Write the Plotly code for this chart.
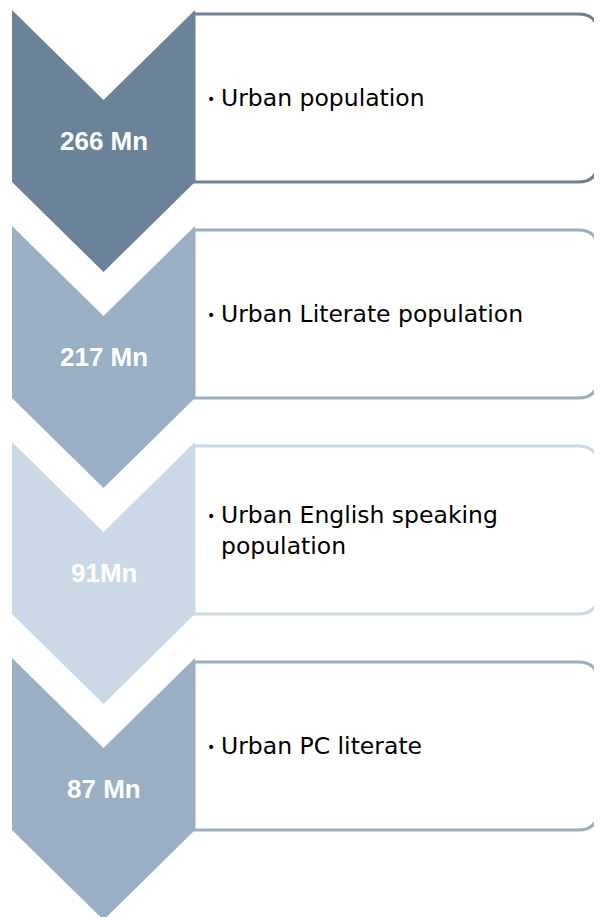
import plotly.graph_objects as go

# ---- data ----
values = ["266 Mn", "217 Mn", "91Mn", "87 Mn"]
descriptions = [
    "Urban population",
    "Urban Literate population",
    "Urban English speaking<br>population",
    "Urban PC literate",
]
colors = ["#6A8399", "#99AFC4", "#CBD9E6", "#99AFC4"]

# ---- layout geometry (pixels, in axis units) ----
W, H = 602, 917
PAGE_OFF = 8  # default body margin of the page
top0, step = 10, 216
cx_left, cx_right = 12, 195
notch, shoulder, tip = 90, 172, 262
box_right, radius = 598, 20

fig = go.Figure()
shapes = []
annotations = []
for i, (val, desc, col) in enumerate(zip(values, descriptions, colors)):
    T = top0 + step * i
    cx = (cx_left + cx_right) / 2
    fig.add_trace(go.Scatter(
        x=[cx_left, cx, cx_right, cx_right, cx, cx_left, cx_left],
        y=[T, T + notch, T, T + shoulder, T + tip, T + shoulder, T],
        mode="lines", fill="toself", fillcolor=col,
        line=dict(width=0, color=col), hoverinfo="skip", showlegend=False,
    ))
    bt, bb = T + 4, T + shoulder
    bl = cx_right - 1
    path = (f"M {bl},{bt} L {box_right - radius},{bt} "
            f"Q {box_right},{bt} {box_right},{bt + radius} "
            f"L {box_right},{bb - radius} "
            f"Q {box_right},{bb} {box_right - radius},{bb} "
            f"L {bl},{bb} Z")
    shapes.append(dict(type="path", path=path, xref="x", yref="y",
                       line=dict(color=col, width=3), fillcolor="white",
                       layer="below"))
    annotations.append(dict(
        x=cx, y=T + (notch + shoulder) / 2, xref="x", yref="y",
        text=val, showarrow=False, xanchor="center", yanchor="middle",
        font=dict(family="Liberation Sans, Arial, sans-serif", size=26,
                  color="white", weight="bold"),
    ))
    mid = (bt + bb) / 2
    annotations.append(dict(
        x=219, y=mid, xref="x", yref="y", text=desc, showarrow=False,
        xanchor="left", yanchor="middle", align="left",
        font=dict(family="DejaVu Sans, sans-serif", size=23.5, color="black"),
    ))
    nlines = desc.count("<br>") + 1
    annotations.append(dict(
        x=211, y=mid - (nlines - 1) * 15 + 1, xref="x", yref="y", text="•",
        showarrow=False, xanchor="center", yanchor="middle",
        font=dict(family="DejaVu Sans, sans-serif", size=14, color="black"),
    ))

fig.update_layout(
    width=W - PAGE_OFF, height=H - PAGE_OFF, autosize=False,
    margin=dict(l=0, r=0, t=0, b=0),
    paper_bgcolor="white", plot_bgcolor="white",
    xaxis=dict(range=[PAGE_OFF, W], visible=False, fixedrange=True),
    yaxis=dict(range=[H, PAGE_OFF], visible=False, fixedrange=True),
    shapes=shapes, annotations=annotations, showlegend=False,
)
fig.write_html("out.html", config={"displayModeBar": False})
